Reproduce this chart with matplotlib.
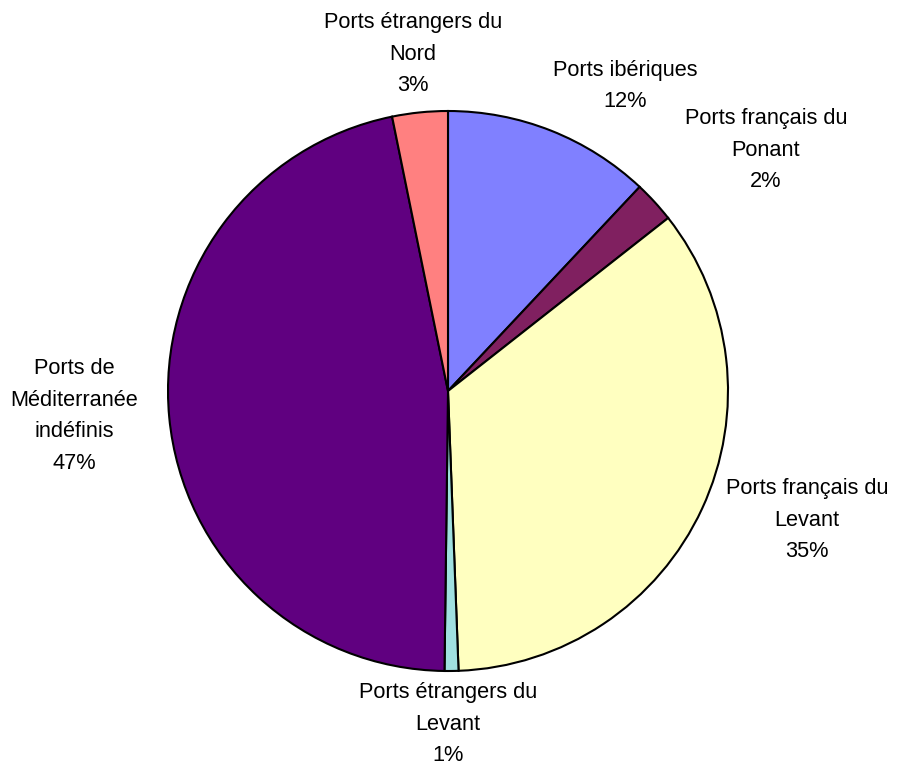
import matplotlib
matplotlib.use("Agg")
import matplotlib.pyplot as plt

labels = ["Ports ibériques", "Ports français du\nPonant", "Ports français du\nLevant",
          "Ports étrangers du\nLevant", "Ports de\nMéditerranée\nindéfinis", "Ports étrangers du\nNord"]
values = [12.0, 2.4, 35.0, 0.8, 46.6, 3.2]
pct_labels = ["12%", "2%", "35%", "1%", "47%", "3%"]
colors = ["#8080FF", "#802060", "#FFFFC0", "#A0E0E0", "#600080", "#FF8080"]

W, H = 901, 767
fig = plt.figure(figsize=(W / 100, H / 100), dpi=100)
ax = fig.add_axes([0, 0, 1, 1])

cx, cy, R = 448, H - 391, 280
wedges, _ = ax.pie(values, colors=colors, startangle=90, counterclock=False,
                   center=(cx, cy), radius=R, frame=True,
                   wedgeprops=dict(edgecolor="black", linewidth=1.5))
ax.set_xlim(0, W)
ax.set_ylim(0, H)
ax.set_aspect("equal")
ax.axis("off")

# label centres (pixel coords, y from top)
label_pos = [(625, 86), (766, 150), (807, 520), (448, 724), (74, 416), (413, 54)]
for lab, pct, (x, y) in zip(labels, pct_labels, label_pos):
    ax.text(x, H - y, lab + "\n" + pct, ha="center", va="center",
            fontsize=15.7, family="Liberation Sans", linespacing=1.68, color="black")

fig.savefig("out.png", dpi=100)
